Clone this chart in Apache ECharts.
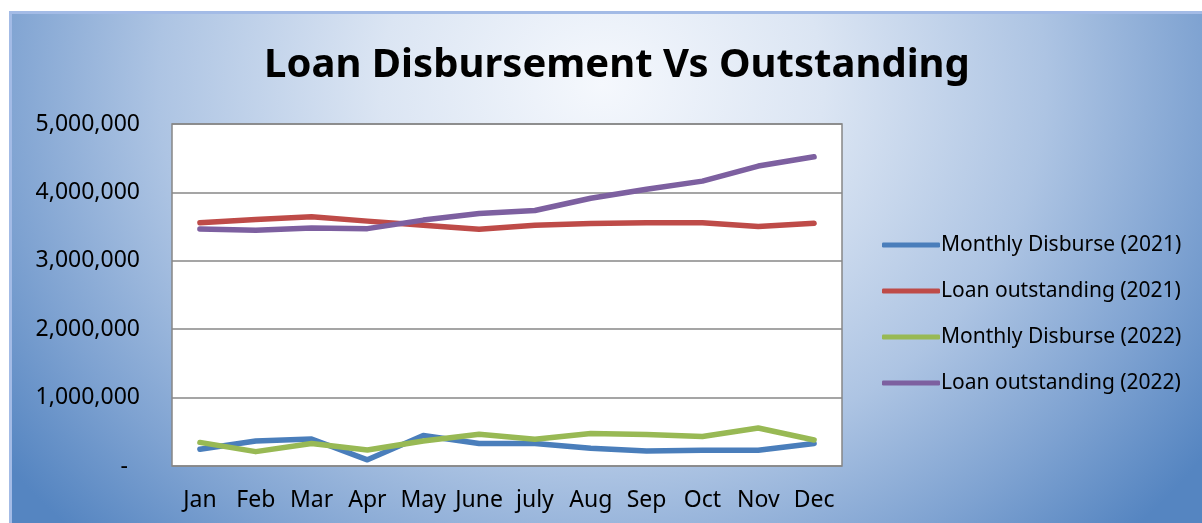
<!DOCTYPE html>
<html>
<head>
<meta charset="utf-8">
<script src="https://cdn.jsdelivr.net/npm/echarts@6/dist/echarts.min.js"></script>
<style>
  html, body { margin: 0; padding: 0; background: #fff; }
  #bg {
    position: absolute; left: 9px; top: 11px; width: 1193px; height: 512px;
    box-sizing: border-box;
    border-left: 3px solid #a3bbe6; border-top: 3px solid #a3bbe6;
    background: radial-gradient(ellipse 740px 640px at 590px 70px,
      #f5f8fd 0%, #dbe5f3 30%, #adc4e3 60%, #7ea2d1 82%, #5585c1 100%);
  }
  #chart { position: absolute; left: 0; top: 0; width: 1202px; height: 523px; }
</style>
</head>
<body>
<div id="bg"></div>
<div id="chart"></div>
<script>
  var months = ['Jan', 'Feb', 'Mar', 'Apr', 'May', 'June', 'july', 'Aug', 'Sep', 'Oct', 'Nov', 'Dec']
  var disburse2021 = [245000, 365000, 395000, 90000, 445000, 330000, 330000, 260000, 220000, 230000, 230000, 330000]
  var outstanding2021 = [3555000, 3605000, 3645000, 3580000, 3520000, 3460000, 3520000, 3545000, 3555000, 3555000, 3500000, 3550000]
  var disburse2022 = [345000, 210000, 330000, 235000, 365000, 465000, 390000, 475000, 460000, 430000, 555000, 380000]
  var outstanding2022 = [3465000, 3445000, 3480000, 3470000, 3595000, 3690000, 3735000, 3915000, 4045000, 4165000, 4385000, 4520000]
  var seriesNames = ['Monthly Disburse (2021)', 'Loan outstanding (2021)', 'Monthly Disburse (2022)', 'Loan outstanding (2022)']
  var colors = ['#4a7ebb', '#be4b48', '#98b954', '#7d60a0']

  var chart = echarts.init(document.getElementById('chart'))

  function lineSeries(name, data, color) {
    return {
      name: name,
      type: 'line',
      data: data,
      symbol: 'none',
      lineStyle: { width: 5.5, color: color, cap: 'round', join: 'round' },
      itemStyle: { color: color }
    }
  }

  chart.setOption({
    backgroundColor: 'transparent',
    textStyle: { fontFamily: 'Noto Sans' },
    title: {
      text: 'Loan Disbursement Vs Outstanding',
      left: 612,
      textAlign: 'center',
      top: 41,
      textStyle: { fontSize: 40, fontWeight: 'bold', color: '#000', fontFamily: 'Noto Sans' }
    },
    legend: {
      orient: 'vertical',
      left: 877,
      top: 229,
      icon: 'roundRect',
      itemWidth: 58,
      itemHeight: 5,
      itemGap: 24,
      data: seriesNames,
      textStyle: { fontSize: 21, color: '#000', lineHeight: 22, padding: [0, 0, 0, -4] }
    },
    grid: {
      left: 172,
      right: 360,
      top: 124,
      bottom: 57,
      show: true,
      backgroundColor: '#fff',
      borderColor: '#868686',
      borderWidth: 1.5
    },
    xAxis: {
      type: 'category',
      data: months,
      axisTick: { show: false },
      axisLine: { show: false },
      axisLabel: { fontSize: 23, color: '#000', margin: 23, interval: 0 }
    },
    yAxis: {
      type: 'value',
      min: 0,
      max: 5000000,
      interval: 1000000,
      axisLine: { show: false },
      axisTick: { show: false },
      splitLine: { lineStyle: { color: '#878787', width: 1.5 } },
      axisLabel: {
        fontSize: 23,
        color: '#000',
        margin: 32,
        formatter: function(v) {
          return v === 0 ? '{d|-}' : v.toLocaleString('en-US')
        },
        rich: { d: { fontSize: 23, color: '#000', padding: [0, 12, 0, 0] } }
      }
    },
    series: [
      lineSeries(seriesNames[0], disburse2021, colors[0]),
      lineSeries(seriesNames[1], outstanding2021, colors[1]),
      lineSeries(seriesNames[2], disburse2022, colors[2]),
      lineSeries(seriesNames[3], outstanding2022, colors[3])
    ]
  })
</script>
</body>
</html>
